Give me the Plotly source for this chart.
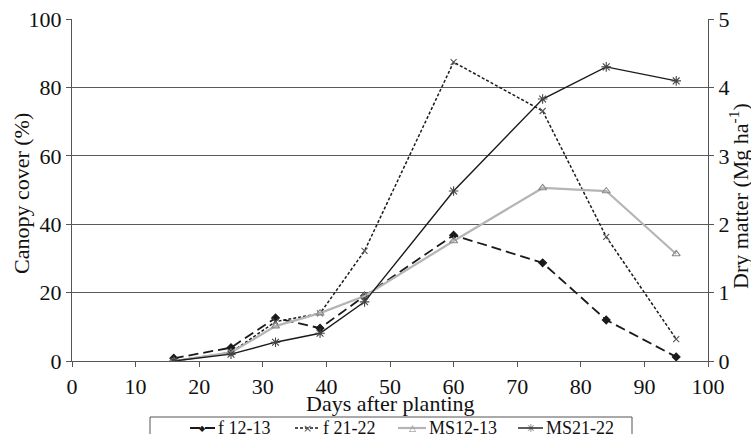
import plotly.graph_objects as go

days = [16, 25, 32, 39, 46, 60, 74, 84, 95]
f_12_13 = [0.8, 3.9, 12.6, 9.6, 19.0, 36.8, 28.7, 12.0, 1.2]
f_21_22 = [0.0, 2.5, 11.5, 13.9, 32.2, 87.4, 73.1, 36.3, 6.4]
ms_12_13 = [0.0, 2.5, 10.2, 14.0, 19.0, 35.1, 50.6, 49.7, 31.3]
ms_21_22 = [0.0, 2.0, 5.5, 8.1, 17.3, 49.7, 76.6, 86.0, 81.9]

series_names = ["f 12-13", "f 21-22", "MS12-13", "MS21-22"]
x_ticks = [0, 10, 20, 30, 40, 50, 60, 70, 80, 90, 100]
left_ticks = [0, 20, 40, 60, 80, 100]
right_ticks = [0, 1, 2, 3, 4, 5]

FONT = "Liberation Serif, Times New Roman, serif"
W, H = 751, 434
ML, MR, MT, MB = 72, 43, 19, 73
PW, PH = W - ML - MR, H - MT - MB

styles = [
    dict(color="#1a1a1a", width=1.8, dash="10px,5px", sym="diamond", msize=6, mcol="#1a1a1a", ch="◆", chsize=8),
    dict(color="#1a1a1a", width=1.5, dash="3px,2px", sym="x-thin-open", msize=6, mcol="#555555", ch="×", chsize=11),
    dict(color="#b5b5b5", width=2.2, dash="solid", sym="triangle-up-open", msize=7, mcol="#888888", ch="△", chsize=9),
    dict(color="#1a1a1a", width=1.4, dash="solid", sym="asterisk-open", msize=8, mcol="#444444", ch="✳", chsize=11),
]
values = [f_12_13, f_21_22, ms_12_13, ms_21_22]

fig = go.Figure()
for name, vals, st in zip(series_names, values, styles):
    fig.add_trace(go.Scatter(
        x=days, y=vals, name=name, mode="lines+markers", showlegend=False,
        line=dict(color=st["color"], width=st["width"], dash=st["dash"]),
        marker=dict(symbol=st["sym"], size=st["msize"], color=st["mcol"],
                    line=dict(width=1.1, color=st["mcol"]))))
# dummy trace for right axis
fig.add_trace(go.Scatter(x=[None], y=[None], yaxis="y2", showlegend=False, hoverinfo="skip"))

def px_x(p):
    return (p - ML) / PW

def px_y(p):
    return (H - MB - p) / PH

shapes = []
annotations = []
# legend box (cut off at the bottom like the reference)
shapes.append(dict(type="rect", xref="paper", yref="paper",
                   x0=px_x(150), x1=px_x(632), y0=px_y(445), y1=px_y(417),
                   line=dict(color="#555555", width=1), fillcolor="white", layer="above"))
legend_line_x = [(190, 215), (295, 320), (398, 426), (518, 543)]
legend_y = 428
for name, st, (a, b) in zip(series_names, styles, legend_line_x):
    shapes.append(dict(type="line", xref="paper", yref="paper",
                       x0=px_x(a), x1=px_x(b), y0=px_y(legend_y), y1=px_y(legend_y),
                       line=dict(color=st["color"], width=st["width"], dash=st["dash"]),
                       layer="above"))
    annotations.append(dict(xref="paper", yref="paper", x=px_x((a + b) / 2), y=px_y(legend_y),
                            text=st["ch"], showarrow=False, xanchor="center", yanchor="middle",
                            font=dict(family="DejaVu Sans", size=st["chsize"], color=st["mcol"])))
    annotations.append(dict(xref="paper", yref="paper", x=px_x(b + 1), y=px_y(legend_y),
                            text=name, showarrow=False, xanchor="left", yanchor="middle",
                            font=dict(family=FONT, size=18, color="#111111")))

# axis titles
annotations.append(dict(xref="paper", yref="paper", x=px_x(390), y=px_y(403),
                        text="Days after planting", showarrow=False, xanchor="center",
                        yanchor="middle", font=dict(family=FONT, size=22, color="#111111")))
annotations.append(dict(xref="paper", yref="paper", x=px_x(21), y=px_y(194),
                        text="Canopy cover (%)", showarrow=False, textangle=-90,
                        xanchor="center", yanchor="middle",
                        font=dict(family=FONT, size=22, color="#111111")))
annotations.append(dict(xref="paper", yref="paper", x=px_x(739), y=px_y(196),
                        text="Dry matter (Mg ha<sup>-1</sup>)", showarrow=False, textangle=-90,
                        xanchor="center", yanchor="middle",
                        font=dict(family=FONT, size=22, color="#111111")))

axis_common = dict(zeroline=False, showline=True, linecolor="#555555", linewidth=1.2,
                   ticks="outside", ticklen=5, tickcolor="#555555", automargin=False)

fig.update_layout(
    width=W, height=H,
    margin=dict(l=ML, r=MR, t=MT, b=MB),
    paper_bgcolor="white", plot_bgcolor="white",
    font=dict(family=FONT, size=22, color="#111111"),
    showlegend=False,
    xaxis=dict(range=[0, 100], tickvals=x_ticks, showgrid=False, **axis_common),
    yaxis=dict(range=[0, 100], tickvals=left_ticks, showgrid=True, gridcolor="#5a5a5a",
               gridwidth=1.2, **axis_common),
    yaxis2=dict(range=[0, 5], tickvals=right_ticks, overlaying="y", side="right", showgrid=False,
                **axis_common),
    shapes=shapes,
    annotations=annotations,
)

fig.write_html("out.html")
